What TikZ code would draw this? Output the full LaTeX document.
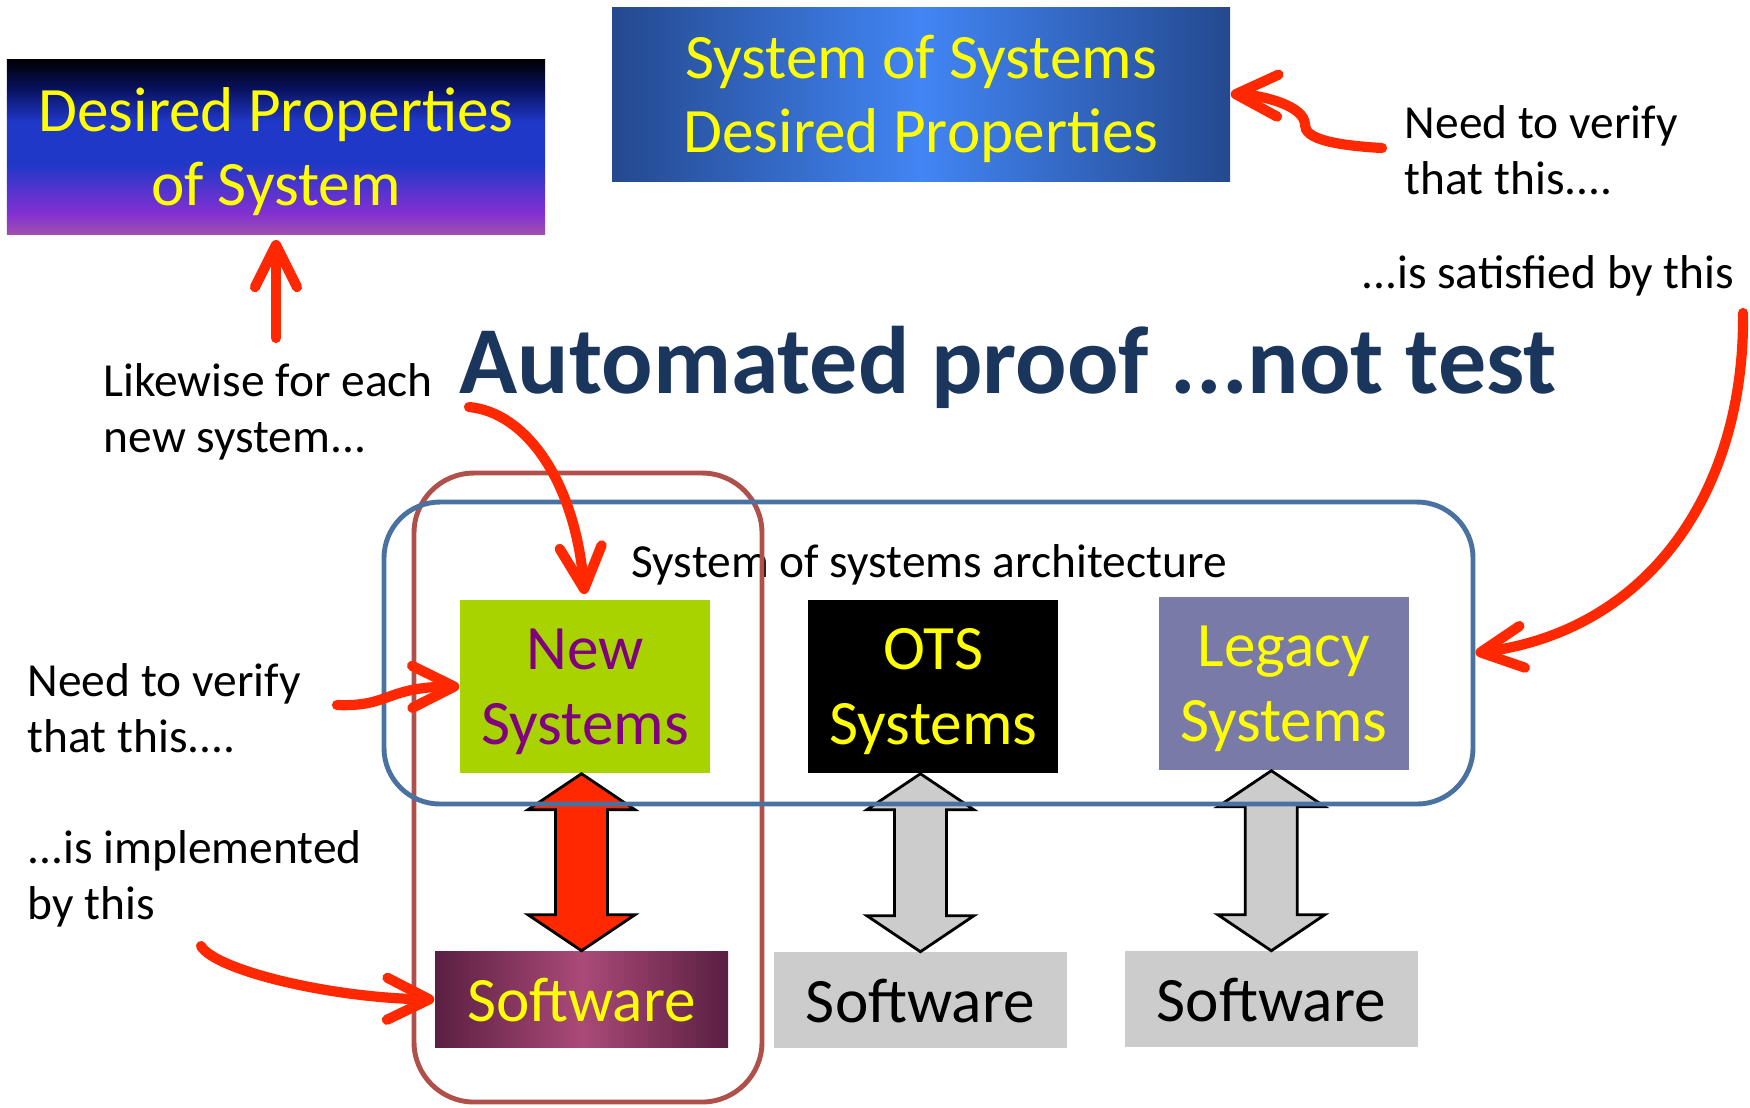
\documentclass[tikz,border=0pt]{standalone}
\usepackage{fontspec}
\setmainfont{Carlito}
\usetikzlibrary{positioning,arrows.meta,calc}

\definecolor{arrowred}{RGB}{255,40,0}
\definecolor{titlenavy}{RGB}{27,54,93}
\definecolor{txtyellow}{RGB}{255,255,0}
\definecolor{dpnavy}{RGB}{8,16,90}
\definecolor{dpblue}{RGB}{32,56,200}
\definecolor{dppurple}{RGB}{130,48,210}
\definecolor{dppink}{RGB}{160,80,175}
\definecolor{sosdark}{RGB}{36,73,143}
\definecolor{soslight}{RGB}{66,133,244}
\definecolor{newgreen}{RGB}{168,210,0}
\definecolor{newpurple}{RGB}{128,0,128}
\definecolor{legacyblue}{RGB}{122,122,168}
\definecolor{swdark}{RGB}{90,31,66}
\definecolor{swpink}{RGB}{170,74,120}
\definecolor{swgray}{RGB}{204,204,204}
\definecolor{archblue}{RGB}{74,114,160}
\definecolor{colbrown}{RGB}{176,80,74}

\pgfdeclareverticalshading{dpshade}{100bp}{color(0bp)=(dppink); color(25bp)=(dppink);
  color(31bp)=(dppurple); color(45bp)=(dpblue); color(57bp)=(dpblue); color(67bp)=(dpnavy);
  color(75bp)=(black); color(100bp)=(black)}

% block arrow between a system box and its software box
\newcommand\biarrow[3]{%
  \draw[blockarrow, fill=#3] (#1.south -| #2.north) -- ++(0.535,-0.36) -- ++(-0.275,0)
    -- ($(#2.north)+(0.26,0.36)$) -- ++(0.275,0) -- (#2.north) -- ++(-0.535,0.36)
    -- ++(0.275,0) -- ($(#1.south -| #2.north)+(-0.26,-0.36)$) -- ++(-0.275,0) -- cycle;}

\begin{document}
\begin{tikzpicture}
  \tikzset{
    bigtext/.style={font=\fontsize{18}{21.2}\selectfont, align=center, text depth=-1.8mm},
    note/.style={font=\fontsize{13.5}{15.9}\selectfont, align=left, inner sep=0pt},
    sysbox/.style={bigtext, minimum width=2.5cm, minimum height=1.73cm, inner sep=0pt, text=txtyellow},
    swbox/.style={bigtext, minimum width=2.93cm, minimum height=0.96cm, inner sep=0pt},
    outline/.style={draw, line width=1.4pt, inner sep=0pt},
    blockarrow/.style={draw=black, line width=0.8pt, line join=miter},
    pointer/.style={draw=arrowred, line width=2.9pt, line cap=round,
      -{Straight Barb[length=4.2mm, width=4.2mm, round]}}
  }
  \useasboundingbox (0,0) rectangle (17.5,-11.07);

  % Define nodes
  \node[bigtext, text=txtyellow, minimum width=5.38cm, minimum height=1.75cm,
        shading=dpshade] (dp) at (2.76,-1.465)
        {Desired Properties\\of System};
  \node[bigtext, text=txtyellow, minimum width=6.18cm, minimum height=1.74cm,
        left color=sosdark, right color=sosdark, middle color=soslight] (sos) at (9.21,-0.94)
        {System of Systems\\Desired Properties};
  \node[font=\fontsize{27.3}{32}\selectfont\bfseries, text=titlenavy, anchor=base] (title)
        at (10.08,-3.93) {Automated proof ...not test};

  \node[note, anchor=north west] (likewise) at (1.03,-3.63) {Likewise for each\\new system...};
  \node[note, anchor=north west] (verifyL) at (0.27,-6.63) {Need to verify\\that this....};
  \node[note, anchor=north west] (impl) at (0.27,-8.30) {...is implemented\\by this};
  \node[note, anchor=north west] (verifyR) at (14.04,-1.05) {Need to verify\\that this....};
  \node[note, anchor=north east] (satisfied) at (17.35,-2.55) {...is satisfied by this};
  \node[note, anchor=base west] (archlabel) at (6.31,-5.77) {System of systems architecture};

  \node[sysbox, fill=newgreen, text=newpurple] (ns) at (5.85,-6.865) {New\\Systems};
  \node[sysbox, fill=black, right=0.97cm of ns] (ots) {OTS\\Systems};
  \node[sysbox, fill=legacyblue, right=0.99cm of ots, yshift=0.3mm] (leg) {Legacy\\Systems};

  \node[swbox, text=txtyellow, left color=swdark, right color=swdark, middle color=swpink,
        below=1.77cm of ns, xshift=-0.35mm] (swnew) {Software};
  \node[swbox, fill=swgray, below=1.78cm of ots, xshift=-1.3mm] (swots) {Software};
  \node[swbox, fill=swgray, below=1.80cm of leg, xshift=-1.25mm] (swleg) {Software};

  \biarrow{ns}{swnew}{arrowred}
  \biarrow{ots}{swots}{swgray}
  \biarrow{leg}{swleg}{swgray}

  \node[outline, draw=colbrown, rounded corners=0.6cm, minimum width=3.48cm,
        minimum height=6.29cm] (newcol) at (5.88,-7.875) {};
  \node[outline, draw=archblue, rounded corners=0.56cm, minimum width=10.89cm,
        minimum height=3.02cm] (arch) at (9.285,-6.53) {};

  % red pointers
  \coordinate (upstart) at (2.76,-3.38);
  \coordinate (likestart) at (4.69,-4.07);
  \coordinate (verstartL) at (3.37,-7.05);
  \coordinate (implstart) at (2.01,-9.46);
  \coordinate (satstart) at (17.43,-3.13);
  \coordinate (verstartR) at (13.82,-1.48);

  \draw[pointer, shorten >=1.5pt] (upstart) -- (dp.south);
  \draw[pointer, shorten >=1.5pt] (likestart) .. controls (5.25,-4.12) and (5.75,-4.8) .. (ns.north);
  \draw[pointer] (verstartL) .. controls (3.9,-7.07) and (3.85,-6.87) .. (ns.west);
  \draw[pointer] (implstart) .. controls (2.15,-9.7) and (3.3,-9.98) .. (swnew.west);
  \draw[pointer] (satstart) .. controls (17.45,-4.9) and (16.5,-6.3) .. (arch.east);
  \draw[pointer] (verstartR) .. controls (13.3,-1.45) and (13.05,-1.38) .. (13.05,-1.25)
    .. controls (13.05,-1.05) and (12.6,-0.95) .. (sos.east);
\end{tikzpicture}
\end{document}
